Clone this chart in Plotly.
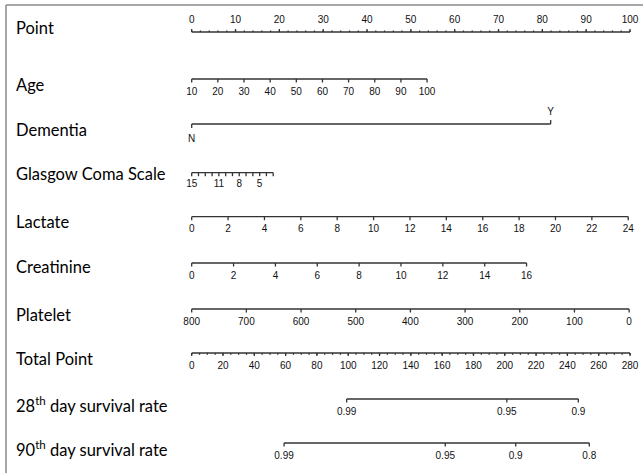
import plotly.graph_objects as go

# ---------------- data ----------------
point_ticks = list(range(0, 101, 10))
point_minor = [v / 2 for v in range(0, 201, 4)]          # every 2 points

age_ticks = list(range(10, 101, 10))
age_range = (10, 100)
age_points_max = 53.7                                    # points at age 100

dementia_labels = ["N", "Y"]
dementia_points = [0.0, 81.9]

gcs_ticks = list(range(15, 2, -1))
gcs_labels = [15, 11, 8, 5]
gcs_range = (15, 3)
gcs_points_max = 18.6                                    # points at GCS 3

lactate_ticks = list(range(0, 25, 2))
lactate_range = (0, 24)
lactate_points_max = 99.6

creat_ticks = list(range(0, 17, 2))
creat_range = (0, 16)
creat_points_max = 76.4

platelet_ticks = list(range(800, -1, -100))
platelet_range = (800, 0)
platelet_points_max = 99.8

total_ticks = list(range(0, 281, 20))
total_minor = list(range(0, 281, 5))
total_max = 280

surv28_labels = ["0.99", "0.95", "0.9"]
surv28_total = [99.0, 201.3, 247.0]

surv90_labels = ["0.99", "0.95", "0.9", "0.8"]
surv90_total = [59.0, 162.0, 207.0, 254.0]

row_labels = ["Point", "Age", "Dementia", "Glasgow Coma Scale", "Lactate",
              "Creatinine", "Platelet", "Total Point",
              "28<sup>th</sup> day survival rate", "90<sup>th</sup> day survival rate"]

# ---------------- layout constants ----------------
W, H = 643, 473
PX0, PX100 = 191.7, 630.0
ppp = (PX100 - PX0) / 100.0
x_lo = -PX0 / ppp
x_hi = x_lo + W / ppp

row_line_y = [32, 79, 124, 172.7, 216.7, 263, 309, 353, 399, 443]
row_text_y = [28, 85, 130, 174, 222, 267, 315, 359, 405, 449]

LINE_COL = "#333333"
TXT_COL = "#111111"
TICK_FONT = dict(family="Liberation Sans, Arial, sans-serif", size=10, color=TXT_COL)


def lin(v, rng, pmax):
    a, b = rng
    return (v - a) / (b - a) * pmax


def tot2pts(t):
    return t / total_max * 100.0


fig = go.Figure()


def draw_axis(y, major_x, labels, minor_x=(), up=False, label_dy=13,
              major_len=3.5, minor_len=1.8, line_x=None):
    sgn = -1 if up else 1
    xs, ys = [], []
    lx = line_x if line_x is not None else (min(major_x), max(major_x))
    xs += [lx[0], lx[1], None]
    ys += [y, y, None]
    for mx in major_x:
        xs += [mx, mx, None]
        ys += [y, y + sgn * major_len, None]
    for mx in minor_x:
        xs += [mx, mx, None]
        ys += [y, y + sgn * minor_len, None]
    fig.add_trace(go.Scatter(x=xs, y=ys, mode="lines",
                             line=dict(color=LINE_COL, width=1.3),
                             hoverinfo="skip", showlegend=False))
    if labels is not None:
        lab_x = [p for p, l in zip(major_x, labels) if l is not None]
        lab_t = [str(l) for l in labels if l is not None]
        fig.add_trace(go.Scatter(x=lab_x, y=[y + sgn * label_dy] * len(lab_x),
                                 mode="text", text=lab_t,
                                 textfont=TICK_FONT, hoverinfo="skip",
                                 showlegend=False))


# Points
draw_axis(row_line_y[0], point_ticks, point_ticks, point_minor, up=True, label_dy=12,
          major_len=3, minor_len=1.5)
# Age
draw_axis(row_line_y[1], [lin(v, age_range, age_points_max) for v in age_ticks], age_ticks)
# Dementia (N below, Y above)
y = row_line_y[2]
fig.add_trace(go.Scatter(x=[dementia_points[0], dementia_points[0], None,
                            dementia_points[0], dementia_points[1], None,
                            dementia_points[1], dementia_points[1]],
                         y=[y + 4, y, None, y, y, None, y, y - 4], mode="lines",
                         line=dict(color=LINE_COL, width=1.3), hoverinfo="skip",
                         showlegend=False))
fig.add_trace(go.Scatter(x=dementia_points, y=[y + 15, y - 12], mode="text",
                         text=dementia_labels, textfont=TICK_FONT,
                         hoverinfo="skip", showlegend=False))
# GCS
gcs_x = [lin(v, gcs_range, gcs_points_max) for v in gcs_ticks]
gcs_lab = [v if v in gcs_labels else None for v in gcs_ticks]
draw_axis(row_line_y[3], gcs_x, gcs_lab, major_len=3.5, label_dy=11.5)
# Lactate
draw_axis(row_line_y[4], [lin(v, lactate_range, lactate_points_max) for v in lactate_ticks],
          lactate_ticks)
# Creatinine
draw_axis(row_line_y[5], [lin(v, creat_range, creat_points_max) for v in creat_ticks],
          creat_ticks)
# Platelet
draw_axis(row_line_y[6], [lin(v, platelet_range, platelet_points_max) for v in platelet_ticks],
          platelet_ticks)
# Total points
draw_axis(row_line_y[7], [tot2pts(v) for v in total_ticks], total_ticks,
          [tot2pts(v) for v in total_minor], major_len=3, minor_len=1.8)
# Survival axes
draw_axis(row_line_y[8], [tot2pts(v) for v in surv28_total], surv28_labels)
draw_axis(row_line_y[9], [tot2pts(v) for v in surv90_total], surv90_labels)

# Row labels
for txt, yy in zip(row_labels, row_text_y):
    fig.add_annotation(x=14 / W, xref="paper", y=yy, yref="y", text=txt,
                       showarrow=False, xanchor="left", yanchor="middle",
                       font=dict(family="Lato, Carlito, sans-serif", size=16.5, color="#000000"))

# frame (top and left edges, as in the reference)
fig.add_shape(type="line", xref="paper", yref="paper", x0=6 / W, x1=1, y0=1 - 5 / H, y1=1 - 5 / H,
              line=dict(color="#8a8a8a", width=1.5))
fig.add_shape(type="line", xref="paper", yref="paper", x0=6 / W, x1=6 / W, y0=0, y1=1 - 5 / H,
              line=dict(color="#8a8a8a", width=1.5))

fig.update_layout(
    width=W, height=H, margin=dict(l=0, r=0, t=0, b=0),
    paper_bgcolor="white", plot_bgcolor="white",
    xaxis=dict(range=[x_lo, x_hi], visible=False, fixedrange=True),
    yaxis=dict(range=[H, 0], visible=False, fixedrange=True),
    showlegend=False,
)

fig.write_html("out.html", config={"displayModeBar": False, "staticPlot": True},
               post_script="document.body.style.margin='0';")
